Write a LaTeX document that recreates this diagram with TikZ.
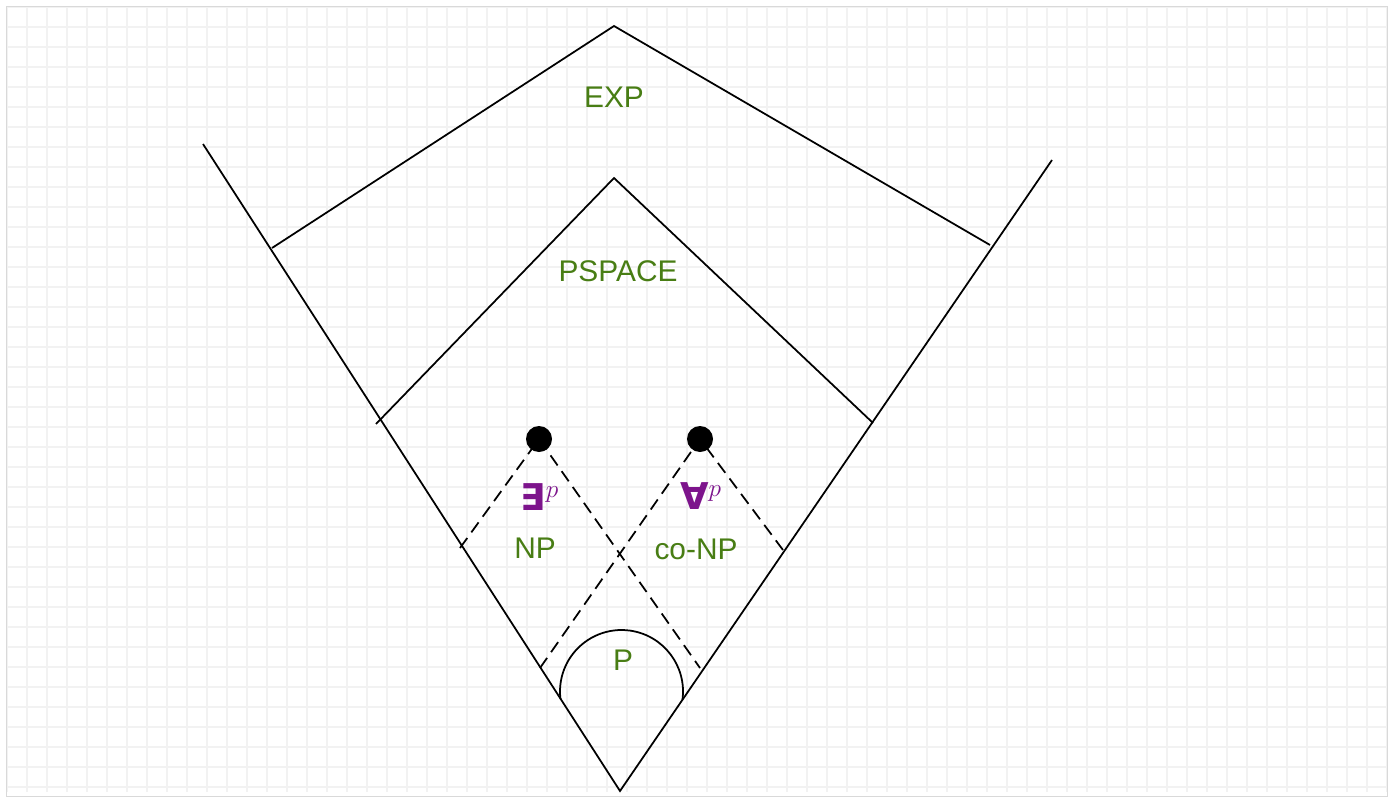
\documentclass[tikz,border=0pt]{standalone}
\usepackage{fontspec}
\setmainfont{Liberation Sans}
\newfontfamily\qfont{DejaVu Sans}
\usepackage{tikz}
\usetikzlibrary{positioning,calc}

\definecolor{clsgreen}{RGB}{72,125,20}
\definecolor{qpurple}{RGB}{125,20,140}

\begin{document}
\begin{tikzpicture}[
			bd/.style={line width=1pt},
			dsh/.style={line width=1pt, dash pattern=on 7pt off 4pt},
			cls/.style={text=clsgreen, font=\fontsize{17}{20}\selectfont, inner sep=0pt},
			quant/.style={text=qpurple, font=\fontsize{21}{24}\selectfont, inner sep=0pt},
			dotnode/.style={circle, fill=black, minimum size=0.52cm, inner sep=0pt},
		]

		\useasboundingbox (0,0) rectangle (27.84,15.98);

		% light grid paper
		\begin{scope}[shift={(0.14,0.24)}]
			\draw[black!5, line width=0.6pt, step=0.4] (0,-0.1) grid (27.6,15.6);
		\end{scope}
		\draw[black!15, line width=0.5pt] (0.12,0.06) rectangle (27.74,15.86);

		% outer V
		\coordinate (vL) at (4.06,13.10);
		\coordinate (vR) at (21.04,12.78);
		\coordinate (vB) at (12.40,0.16);
		\draw[bd] (vL) -- (vB) -- (vR);

		% EXP
		\coordinate (expTop) at (12.28,15.46);
		\coordinate (expL) at (5.44,11.02);
		\coordinate (expR) at (19.80,11.08);
		\draw[bd] (expL) -- (expTop) -- (expR);
		\node[cls] (exp) at (12.28,14.04) {EXP};

		% PSPACE
		\coordinate (psTop) at (12.28,12.42);
		\coordinate (psL) at (7.52,7.50);
		\coordinate (psR) at (17.46,7.52);
		\draw[bd] (psL) -- (psTop) -- (psR);
		\node[cls] (pspace) at (12.36,10.56) {PSPACE};

		% NP and co-NP cones
		\node[dotnode] (sat) at (10.78,7.20) {};
		\node[dotnode] (taut) at (14.00,7.20) {};
		\coordinate (npL) at (9.20,5.02);
		\coordinate (npR) at (14.00,2.62);
		\coordinate (conpL) at (10.80,2.62);
		\coordinate (conpR) at (15.66,4.98);
		\draw[dsh] (npL) -- (sat.center) -- (npR);
		\draw[dsh] (conpL) -- (taut.center) -- (conpR);

		\node[quant] (ex) at (10.80,6.04) {{\qfont\bfseries ∃}$^{p}$};
		\node[cls] (np) at (10.70,5.02) {NP};
		\node[quant] (fa) at (14.02,6.06) {{\qfont\bfseries ∀}$^{p}$};
		\node[cls] (conp) at (13.92,5.00) {co-NP};

		% P
		\draw[bd] (12.43,2.15) ++(-8:1.23) arc[start angle=-8, end angle=187, radius=1.23];
		\node[cls] (p) at (12.46,2.78) {P};

	\end{tikzpicture}
\end{document}
